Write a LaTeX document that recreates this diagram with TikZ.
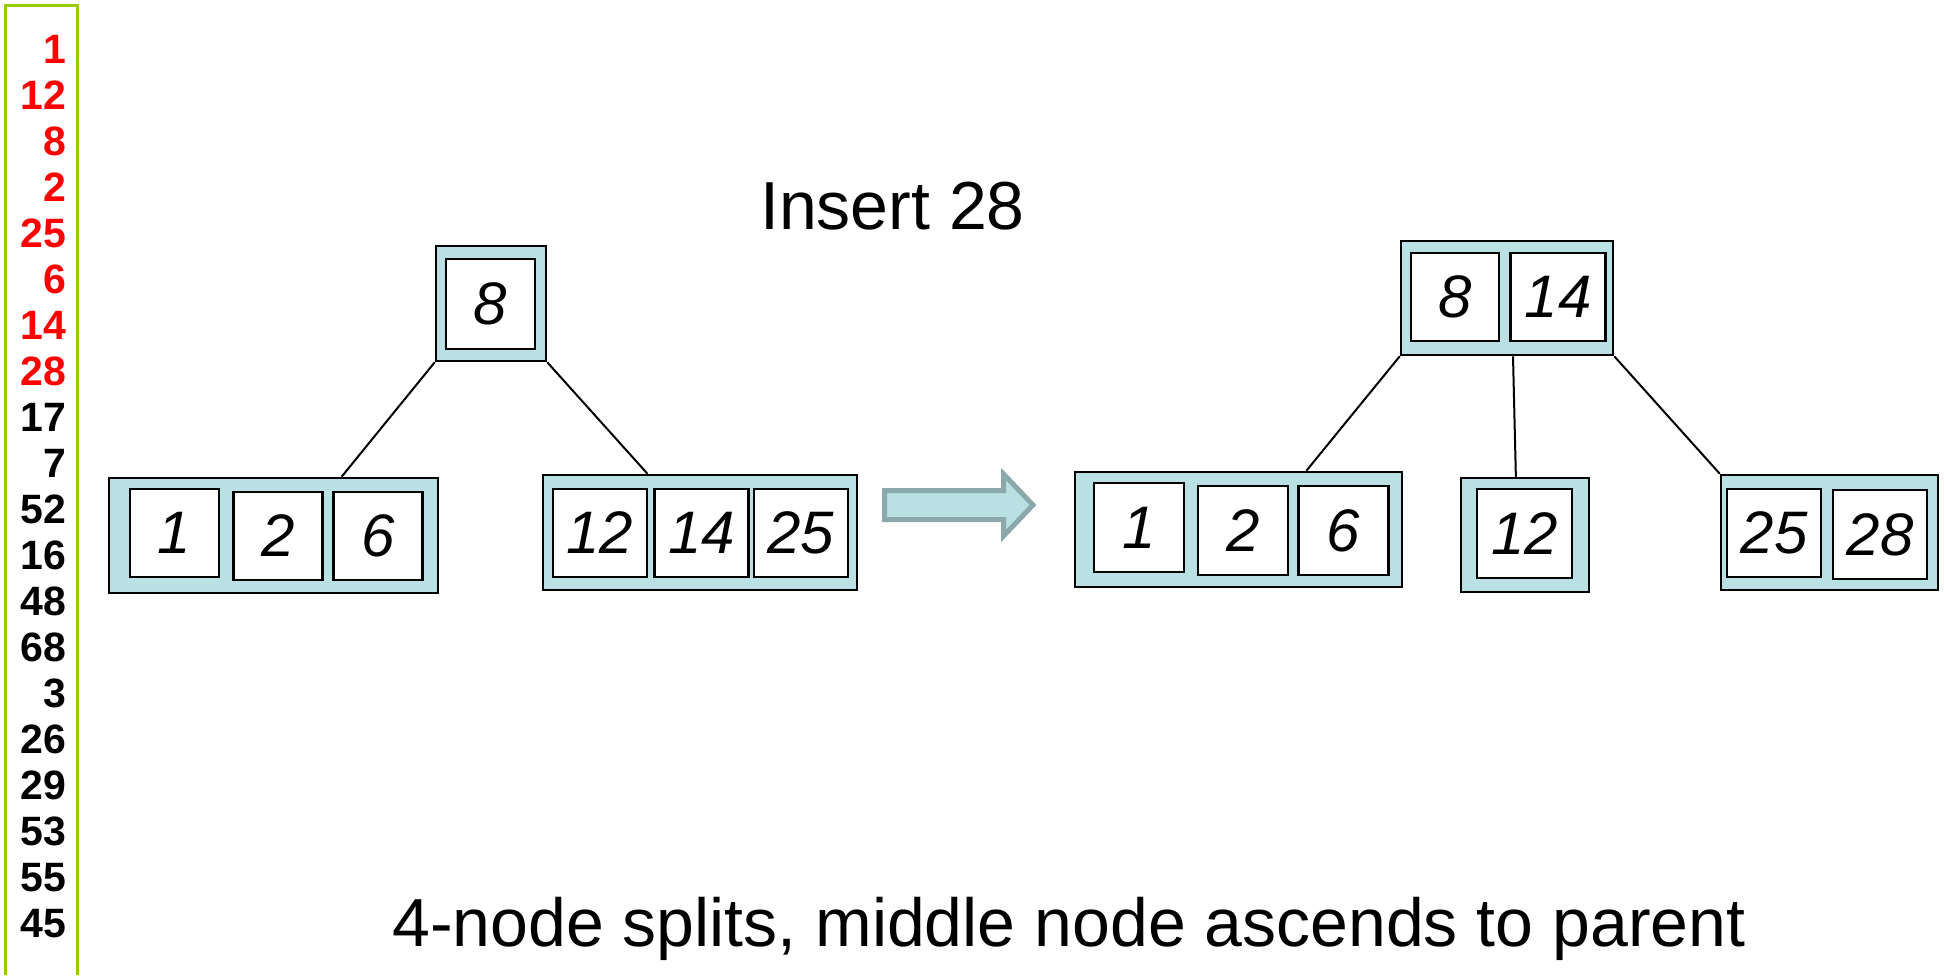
\documentclass[tikz,border=0pt]{standalone}
\usepackage{fontspec}
\setmainfont{Liberation Sans}
\usetikzlibrary{calc}
\definecolor{boxfill}{HTML}{B9E0E3}
\definecolor{arrowedge}{HTML}{8BA9AA}
\definecolor{framegreen}{HTML}{99CC00}
\definecolor{numred}{HTML}{FF0000}
\definecolor{numblack}{HTML}{000000}
\begin{document}
\begin{tikzpicture}[x=1pt,y=-1pt,
  treebox/.style={draw=black, fill=boxfill, line width=2.5pt, inner sep=0pt},
  keybox/.style={draw=black, fill=white, line width=2.5pt, inner sep=0pt,
    font=\fontsize{60}{60}\selectfont\itshape},
  link/.style={line width=2pt},
  colnum/.style={anchor=base east, inner sep=0pt,
    font=\fontsize{41}{41}\selectfont\bfseries},
  bigtext/.style={anchor=base west, inner sep=0pt,
    font=\fontsize{68}{68}\selectfont},
  bigarrow/.style={draw=arrowedge, fill=boxfill, line width=5pt, line join=miter}
]
\useasboundingbox[fill=white] (0,0) rectangle (1944,975);

% left column frame and sequence
\draw[framegreen, line width=3pt] (5.5,975) -- (5.5,5.5) -- (77.5,5.5) -- (77.5,975);
\foreach \v/\c [count=\i] in {1/numred,12/numred,8/numred,2/numred,25/numred,6/numred,14/numred,28/numred,17/numblack,7/numblack,52/numblack,16/numblack,48/numblack,68/numblack,3/numblack,26/numblack,29/numblack,53/numblack,55/numblack,45/numblack}
  \node[colnum, text=\c] (n\i) at (66.5, {63+46.05*(\i-1)}) {\v};

% titles
\node[bigtext] (title) at (760,229) {Insert 28};
\node[bigtext] (caption) at (392,946) {4-node splits, middle node ascends to parent};

% ---- old tree ----
\node[treebox, minimum width=110pt, minimum height=115pt] (oroot) at (491,303.5) {};
\node[keybox, minimum width=89pt, minimum height=90pt] (ok8) at (490.5,304) {8};

\node[treebox, minimum width=329pt, minimum height=115pt] (oleft) at (273.5,535.5) {};
\node[keybox, minimum width=89pt, minimum height=88pt] (ok1) at (174.5,533) {1};
\node[keybox, minimum width=89pt, minimum height=88pt] (ok2) at (278,536) {2};
\node[keybox, minimum width=89pt, minimum height=88pt] (ok6) at (378,536) {6};

\node[treebox, minimum width=314pt, minimum height=115pt] (oright) at (700,532.5) {};
\node[keybox, minimum width=94pt, minimum height=88pt] (ok12) at (600,533) {12};
\node[keybox, minimum width=94pt, minimum height=88pt] (ok14) at (701.5,533) {14};
\node[keybox, minimum width=94pt, minimum height=88pt] (ok25) at (801,533) {25};

\draw[link] (oroot.south west) -- ($(oleft.north west)!0.7055!(oleft.north east)$);
\draw[link] (oroot.south east) -- ($(oright.north west)!0.334!(oright.north east)$);

% ---- transition arrow ----
\draw[bigarrow] (884.5,490.5) -- (1003.5,490.5) -- (1003.5,474) -- (1033,505)
  -- (1003.5,536) -- (1003.5,519.5) -- (884.5,519.5) -- cycle;

% ---- new tree ----
\node[treebox, minimum width=212pt, minimum height=114pt] (nroot) at (1507,298) {};
\node[keybox, minimum width=88pt, minimum height=88pt] (nk8) at (1455,297) {8};
\node[keybox, minimum width=95pt, minimum height=88pt] (nk14) at (1558,297) {14};

\node[treebox, minimum width=327pt, minimum height=115pt] (nleft) at (1238.5,529.5) {};
\node[keybox, minimum width=90pt, minimum height=89pt] (nk1) at (1139,527.5) {1};
\node[keybox, minimum width=90pt, minimum height=89pt] (nk2) at (1243,530.5) {2};
\node[keybox, minimum width=90pt, minimum height=89pt] (nk6) at (1343.5,530.5) {6};

\node[treebox, minimum width=128pt, minimum height=114pt] (nmid) at (1525,535) {};
\node[keybox, minimum width=95pt, minimum height=89pt] (nk12) at (1524.5,533.5) {12};

\node[treebox, minimum width=217pt, minimum height=115pt] (nright) at (1829.5,532.5) {};
\node[keybox, minimum width=94pt, minimum height=88pt] (nk25) at (1774,533) {25};
\node[keybox, minimum width=94pt, minimum height=89pt] (nk28) at (1880,534.5) {28};

\draw[link] (nroot.south west) -- ($(nleft.north west)!0.706!(nleft.north east)$);
\draw[link] ($(nroot.south west)!0.528!(nroot.south east)$) -- ($(nmid.north west)!0.43!(nmid.north east)$);
\draw[link] (nroot.south east) -- (nright.north west);
\end{tikzpicture}
\end{document}
